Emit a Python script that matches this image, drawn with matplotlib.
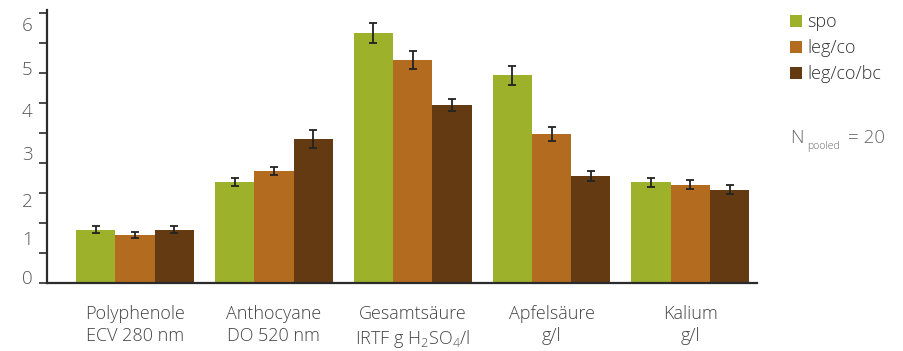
import matplotlib
matplotlib.use("Agg")
import matplotlib.pyplot as plt
import numpy as np

plt.rcParams['font.family'] = ['Open Sans', 'DejaVu Sans']
plt.rcParams['font.weight'] = 'light'
plt.rcParams['mathtext.fontset'] = 'custom'
plt.rcParams['mathtext.rm'] = 'Open Sans:light'

# data
categories = ['Polyphenole\nECV 280 nm', 'Anthocyane\nDO 520 nm',
              'Gesamtsäure\nIRTF g H$_\\mathregular{2}$SO$_\\mathregular{4}$/l',
              'Apfelsäure\ng/l', 'Kalium\ng/l']
series = ['spo', 'leg/co', 'leg/co/bc']
spo = [1.18, 2.24, 5.56, 4.62, 2.24]
legco = [1.07, 2.49, 4.96, 3.31, 2.18]
legcobc = [1.18, 3.20, 3.96, 2.38, 2.07]
spo_err = [0.078, 0.092, 0.23, 0.21, 0.10]
legco_err = [0.067, 0.081, 0.20, 0.15, 0.10]
legcobc_err = [0.078, 0.20, 0.13, 0.115, 0.10]
ytick_labels = ['0', '1', '2', '3', '4', '5', '6']
ytick_label_pos = [0.13, 1.0, 1.84, 2.89, 3.84, 4.78, 5.76]
colors = ['#9db12b', '#b36b20', '#633a12']

fig = plt.figure(figsize=(9.04, 3.51), dpi=100)
ax = fig.add_axes([47/904, 1 - 283/351, 710/904, 273/351])

x = np.arange(len(categories))
w = 0.283
vals = [spo, legco, legcobc]
errs = [spo_err, legco_err, legcobc_err]
for i in range(3):
    ax.bar(x + (i - 1) * w, vals[i], width=w, color=colors[i], label=series[i], zorder=2)
    ax.errorbar(x + (i - 1) * w, vals[i], yerr=errs[i], fmt='none', ecolor='#222222',
                elinewidth=1.3, capsize=3, capthick=1.3, zorder=3)

ax.set_xlim(-0.634, 4.48)
ax.set_ylim(0, 6.07)

for s in ['top', 'right']:
    ax.spines[s].set_visible(False)
ax.spines['left'].set_color('#2b2b2b')
ax.spines['bottom'].set_color('#2b2b2b')
ax.spines['left'].set_linewidth(1.6)
ax.spines['bottom'].set_linewidth(1.6)

ax.set_yticks(ytick_label_pos)
ax.set_yticklabels(ytick_labels)
ax.set_yticks(np.linspace(0, 6, 10), minor=True)
ax.tick_params(axis='y', which='major', length=0, pad=10.5, labelsize=13.5, labelcolor='#555555')
ax.tick_params(axis='y', which='minor', length=5.5, width=1.2, color='#2b2b2b')

ax.set_xticks(x)
ax.set_xticklabels(categories, fontsize=13, color='#444444', linespacing=1.3)
ax.tick_params(axis='x', length=0, pad=16)

leg = ax.legend(loc='upper left', bbox_to_anchor=(783/904, 1 - 6/351), bbox_transform=fig.transFigure,
                frameon=False, fontsize=13, handlelength=0.65, handleheight=0.65,
                handletextpad=0.3, labelspacing=0.45, borderaxespad=0)
for t in leg.get_texts():
    t.set_color('#333333')

fig.text(790/904, 1 - 138/351, 'N', fontsize=13.5, color='#666666', va='center', ha='left')
fig.text(807/904, 1 - 146/351, 'pooled', fontsize=7.5, color='#666666', va='center', ha='left')
fig.text(848/904, 1 - 138/351, '= 20', fontsize=13.5, color='#666666', va='center', ha='left')

fig.savefig('out.png', dpi=100)
